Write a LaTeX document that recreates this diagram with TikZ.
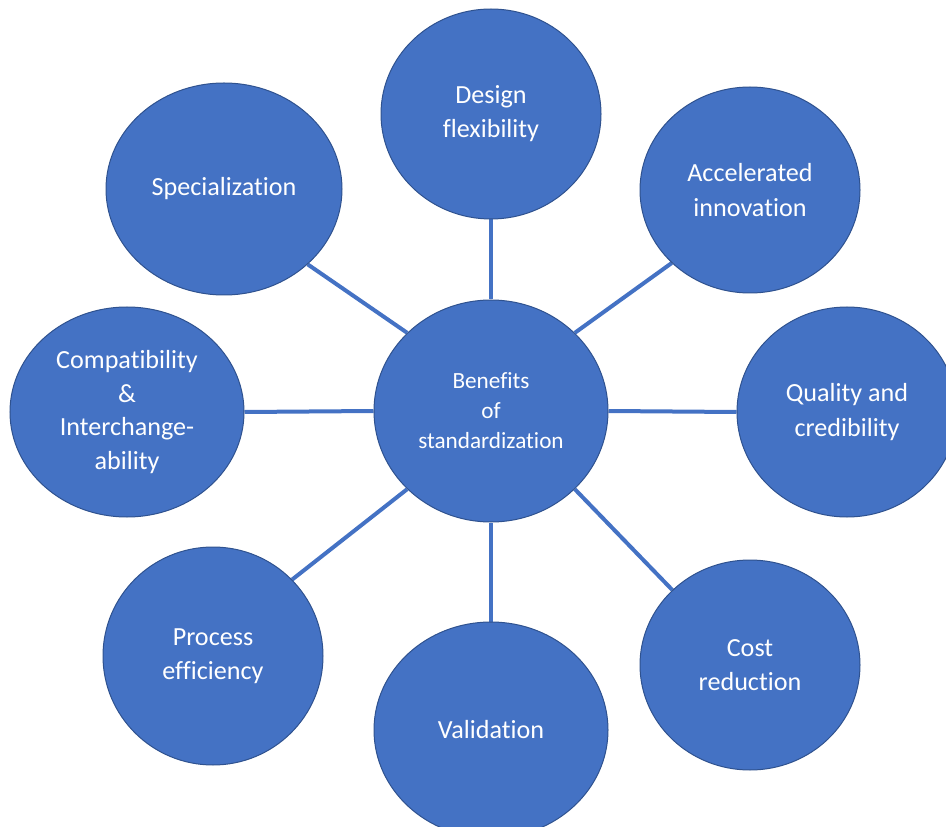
\documentclass[tikz,border=0pt]{standalone}
\usepackage{fontspec}
\setmainfont{Carlito}[Ligatures=NoCommon]
\usetikzlibrary{shapes.geometric,backgrounds}
\definecolor{bubblefill}{HTML}{4472C4}
\definecolor{bubbleline}{HTML}{2F528F}
\tikzset{
  bubble/.style 2 args={ellipse,draw=bubbleline,line width=0.75pt,fill=bubblefill,
    inner sep=0pt,minimum width=#1*1.5pt,minimum height=#2*1.5pt,
    text=white,align=center,font=\fontsize{19.6}{25.6}\selectfont},
  spoke/.style={draw=bubblefill,line width=3pt},
}

\begin{document}
\begin{tikzpicture}[x=0.75pt,y=-0.75pt]
\useasboundingbox (0,0) rectangle (946,827);
% the hub
\node[bubble={117}{111},font=\fontsize{17.4}{22.5}\selectfont] (hub) at (491,411) {Benefits\\of\\standardization};
% the ring of benefits
\node[bubble={110}{105}] (design)  at (491,114) {Design\\flexibility};
\node[bubble={110}{103}] (accel)   at (750,190) {Accelerated\\innovation};
\node[bubble={110}{105}] (quality) at (847,412) {Quality and\\credibility};
\node[bubble={110}{105}] (cost)    at (750,665) {Cost\\reduction};
\node[bubble={117}{108}] (valid)   at (491,730) {Validation};
\node[bubble={110}{109}] (process) at (213,656) {Process\\efficiency};
\node[bubble={117}{105},font=\fontsize{19.6}{25.3}\selectfont] (compat) at (127,412) {Compatibility\\\&\\Interchange-\\ability};
\node[bubble={118}{106}] (spec)    at (224,189) {Specialization};
% spokes sit behind the bubbles
\begin{scope}[on background layer]
\draw[spoke] (hub.north) -- (design.south);
\draw[spoke] (hub.43) -- (accel.-137);
\draw[spoke] (hub.east) -- (quality.west);
\draw[spoke] (hub.-43) -- (cost.136);
\draw[spoke] (hub.south) -- (valid.north);
\draw[spoke] (hub.-137) -- (process.44);
\draw[spoke] (hub.west) -- (compat.east);
\draw[spoke] (hub.137) -- (spec.-42);
\end{scope}
\end{tikzpicture}
\end{document}
